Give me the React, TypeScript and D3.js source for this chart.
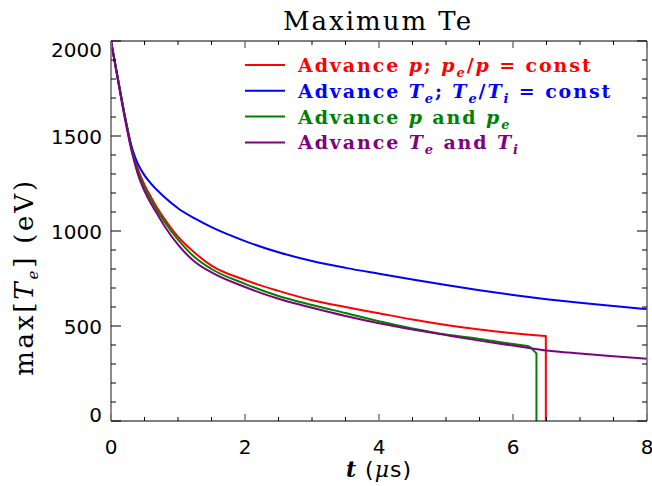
import * as d3 from "d3";

// time (µs) and max Te (eV) for each run
const tRed = [0, 0.1, 0.2, 0.25, 0.3, 0.35, 0.4, 0.5, 0.6, 0.7, 0.8, 1.0, 1.25, 1.5, 2.0, 2.5, 3.0, 3.5, 4.0, 4.5, 5.0, 5.5, 6.0, 6.49];
const teRed = [2000, 1808, 1618, 1530, 1450, 1385, 1328, 1243, 1177, 1116, 1063, 970, 885, 818, 742, 685, 636, 600, 567, 534, 505, 481, 462, 447];

const tBlue = [0, 0.1, 0.2, 0.25, 0.3, 0.35, 0.4, 0.5, 0.6, 0.8, 1.0, 1.25, 1.5, 2.0, 2.5, 3.0, 3.5, 4.0, 4.5, 5.0, 5.5, 6.0, 6.5, 7.0, 7.5, 8.0];
const teBlue = [2000, 1808, 1618, 1532, 1455, 1398, 1355, 1293, 1248, 1178, 1120, 1066, 1020, 947, 888, 842, 806, 775, 745, 716, 688, 663, 641, 622, 605, 589];

const tGreen = [0, 0.1, 0.2, 0.25, 0.3, 0.35, 0.4, 0.5, 0.6, 0.7, 0.8, 1.0, 1.25, 1.5, 2.0, 2.5, 3.0, 3.5, 4.0, 4.5, 5.0, 5.5, 6.0, 6.23, 6.3, 6.35];
const teGreen = [2000, 1805, 1613, 1525, 1443, 1375, 1316, 1228, 1162, 1101, 1048, 955, 862, 800, 722, 658, 611, 568, 525, 487, 455, 432, 405, 393, 374, 356];

const tPurple = [0, 0.1, 0.2, 0.25, 0.3, 0.35, 0.4, 0.5, 0.6, 0.7, 0.8, 1.0, 1.25, 1.5, 2.0, 2.5, 3.0, 3.5, 4.0, 4.5, 5.0, 5.5, 6.0, 6.5, 7.0, 7.5, 8.0];
const tePurple = [2000, 1800, 1603, 1515, 1432, 1362, 1300, 1210, 1142, 1083, 1025, 928, 838, 782, 705, 643, 596, 553, 515, 482, 452, 423, 397, 371, 355, 341, 328];

const xTicks = [0, 2, 4, 6, 8];
const yTicks = [0, 500, 1000, 1500, 2000];

type Seg = { s: string; it?: boolean; sub?: boolean };

const legend: { color: string; segs: Seg[] }[] = [
  { color: "#ff0000", segs: [{ s: "Advance " }, { s: "p", it: true }, { s: "; " }, { s: "p", it: true }, { s: "e", it: true, sub: true }, { s: "/" }, { s: "p", it: true }, { s: " = const" }] },
  { color: "#0000ff", segs: [{ s: "Advance " }, { s: "T", it: true }, { s: "e", it: true, sub: true }, { s: "; " }, { s: "T", it: true }, { s: "e", it: true, sub: true }, { s: "/" }, { s: "T", it: true }, { s: "i", it: true, sub: true }, { s: " = const" }] },
  { color: "#008000", segs: [{ s: "Advance " }, { s: "p", it: true }, { s: " and " }, { s: "p", it: true }, { s: "e", it: true, sub: true }] },
  { color: "#800080", segs: [{ s: "Advance " }, { s: "T", it: true }, { s: "e", it: true, sub: true }, { s: " and " }, { s: "T", it: true }, { s: "i", it: true, sub: true }] },
];

const series = [
  { t: tRed, v: teRed, color: "#ff0000", drop: true },
  { t: tBlue, v: teBlue, color: "#0000ff", drop: false },
  { t: tGreen, v: teGreen, color: "#008000", drop: true },
  { t: tPurple, v: tePurple, color: "#800080", drop: false },
];

// subscripts drawn with dy shifts so the following text returns to baseline
function renderSegs(segs: Seg[], subSize: number) {
  let shifted = false;
  return segs.map((g, i) => {
    let dy = 0;
    if (g.sub && !shifted) { dy = 5; shifted = true; }
    else if (!g.sub && shifted) { dy = -5; shifted = false; }
    return (
      <tspan key={i} dy={dy || undefined} fontStyle={g.it ? "italic" : "normal"} fontSize={g.sub ? subSize : undefined}>
        {g.s}
      </tspan>
    );
  });
}

export default function App() {
  const width = 652, height = 486;
  const left = 111, right = 647, top = 41, bottom = 421;

  const x = d3.scaleLinear().domain([0, 8]).range([left, right]);
  const y = d3.scaleLinear().domain([0, 2000]).range([bottom, top]);

  const line = d3
    .line<[number, number]>()
    .x((d) => x(d[0]))
    .y((d) => y(d[1]))
    .curve(d3.curveMonotoneX);

  const paths = series.map((sr) => {
    const pts = sr.t.map((t, i) => [t, sr.v[i]] as [number, number]);
    let p = line(pts) || "";
    // the run stops: straight drop to zero
    if (sr.drop) p += `L${x(sr.t[sr.t.length - 1])},${y(0)}`;
    return p;
  });

  const xMinor = d3.range(0, 8.01, 0.5);
  const yMinor = d3.range(0, 2001, 100);
  const sans = "'DejaVu Sans', sans-serif";
  const serif = "'DejaVu Serif', serif";

  return (
    <svg width={width} height={height} style={{ position: "absolute", left: 0, top: 0, background: "#fff" }}>
      <rect width={width} height={height} fill="#fff" />

      {/* title */}
      <text x={378} y={30} textAnchor="middle" fontFamily={serif} fontSize={26} letterSpacing={2}>
        Maximum Te
      </text>

      {/* curves */}
      {paths.map((p, i) => (
        <path key={i} d={p} fill="none" stroke={series[i].color} strokeWidth={2} strokeLinejoin="round" />
      ))}

      {/* frame */}
      <line x1={left} x2={right} y1={bottom} y2={bottom} stroke="#000" />
      <line x1={left} x2={right} y1={top} y2={top} stroke="#000" />
      <line x1={left} x2={left} y1={top} y2={bottom} stroke="#666" strokeWidth={1.5} />
      <line x1={right} x2={right} y1={top} y2={bottom} stroke="#666" strokeWidth={1.5} />

      {/* x ticks bottom/top */}
      {xMinor.map((t) => {
        const major = t % 2 === 0;
        const len = major ? 7 : 4;
        return (
          <g key={"x" + t} stroke={major ? "#777" : "#000"} strokeWidth={major ? 1.5 : 1}>
            <line x1={x(t)} x2={x(t)} y1={bottom} y2={bottom - len} />
            <line x1={x(t)} x2={x(t)} y1={top} y2={top + len} />
          </g>
        );
      })}
      {/* y ticks left/right */}
      {yMinor.map((v) => {
        const major = v % 500 === 0;
        const len = major ? 10 : 5;
        return (
          <g key={"y" + v} stroke="#000">
            <line x1={left} x2={left + len} y1={y(v)} y2={y(v)} />
            <line x1={right} x2={right - len} y1={y(v)} y2={y(v)} />
          </g>
        );
      })}

      {/* tick labels */}
      {xTicks.map((t) => (
        <text key={"xl" + t} x={x(t)} y={454} textAnchor="middle" fontFamily={sans} fontSize={20}>
          {t}
        </text>
      ))}
      {yTicks.map((v) => (
        <text
          key={"yl" + v}
          x={102}
          y={y(v) + (v === 2000 ? 16 : v === 0 ? 1 : 8)}
          textAnchor="end"
          fontFamily={sans}
          fontSize={20}
        >
          {v}
        </text>
      ))}

      {/* axis titles */}
      <text x={379} y={477} textAnchor="middle" fontFamily={sans} fontSize={22} letterSpacing={1}>
        <tspan fontFamily={serif} fontStyle="italic" fontWeight="bold">t</tspan>
        <tspan>{"  ("}</tspan>
        <tspan fontFamily={serif} fontStyle="italic">μ</tspan>
        <tspan>s)</tspan>
      </text>
      <text
        transform="translate(33,277) rotate(-90)"
        textAnchor="middle"
        fontFamily={serif}
        fontSize={26}
        letterSpacing={2.8}
      >
        <tspan>max[</tspan>
        <tspan fontStyle="italic">T</tspan>
        <tspan fontStyle="italic" fontSize={15} dy={5}>e</tspan>
        <tspan dy={-5}>] (eV)</tspan>
      </text>

      {/* legend */}
      {legend.map((l, i) => {
        const yy = 65 + i * 25.8;
        return (
          <g key={"lg" + i}>
            <line x1={245} x2={285} y1={yy} y2={yy} stroke={l.color} strokeWidth={2} />
            <text x={298} y={yy + 7} fill={l.color} fontFamily={serif} fontWeight="bold" fontSize={19} letterSpacing={1.9}>
              {renderSegs(l.segs, 13)}
            </text>
          </g>
        );
      })}
    </svg>
  );
}
